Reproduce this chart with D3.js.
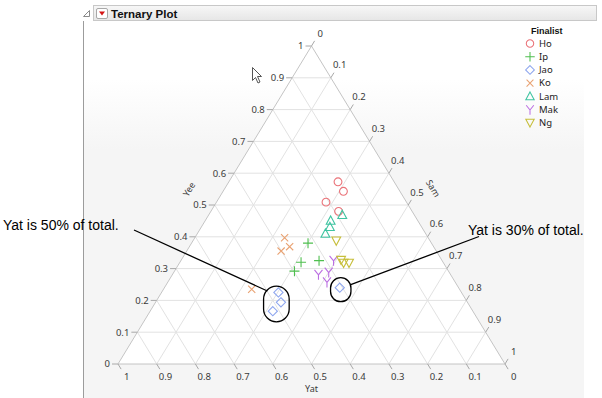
<!DOCTYPE html>
<html>
<head>
<meta charset="utf-8">
<script src="https://cdn.jsdelivr.net/npm/d3@7"></script>
<style>
  body { margin: 0; background: #fff; }
  text { font-family: "Noto Sans", "DejaVu Sans", sans-serif; }
</style>
</head>
<body>
<div id="chart"></div>
<script>
// finalists and the share each judge gave them (Yee / Sam / Yat)
const finalists = ["Ho", "Ip", "Jao", "Ko", "Lam", "Mak", "Ng"];
const colors = ["#ea7379", "#4fbf4f", "#8ea6ee", "#e9a272", "#3fc4a1", "#bb6fe2", "#c6be3a"];

const yeeVals = [
    [0.573, 0.543, 0.509, 0.480],
    [0.380, 0.320, 0.325, 0.292],
    [0.225, 0.194, 0.166, 0.240],
    [0.397, 0.369, 0.355, 0.235],
    [0.469, 0.451, 0.431, 0.410],
    [0.326, 0.282, 0.289, 0.258],
    [0.388, 0.327, 0.318, 0.318]
];
const samVals = [
    [0.282, 0.311, 0.283, 0.330],
    [0.301, 0.313, 0.357, 0.310],
    [0.302, 0.324, 0.317, 0.453],
    [0.232, 0.259, 0.244, 0.228],
    [0.345, 0.324, 0.332, 0.331],
    [0.394, 0.377, 0.400, 0.411],
    [0.370, 0.413, 0.424, 0.438]
];
const yatVals = [
    [0.145, 0.146, 0.208, 0.190],
    [0.319, 0.367, 0.318, 0.398],
    [0.473, 0.482, 0.517, 0.307],
    [0.371, 0.372, 0.401, 0.537],
    [0.186, 0.225, 0.237, 0.259],
    [0.280, 0.341, 0.311, 0.331],
    [0.242, 0.260, 0.258, 0.244]
];

const tickVals = [0, 0.1, 0.2, 0.3, 0.4, 0.5, 0.6, 0.7, 0.8, 0.9, 1];
const tickLabels = ["0", "0.1", "0.2", "0.3", "0.4", "0.5", "0.6", "0.7", "0.8", "0.9", "1"];

const annotations = [
    {text: "Yat is 50% of total.", pts: [0, 1, 2]},
    {text: "Yat is 30% of total.", pts: [3]}
];

const width = 602, height = 398;

const svg = d3.select("#chart").append("svg")
    .attr("width", width)
    .attr("height", height);

// x runs along the base (Sam + Yee/2), y goes up with Yee
const x = d3.scaleLinear().domain([0, 1]).range([118, 505]);
const y = d3.scaleLinear().domain([0, 1]).range([364, 46]);

function project(yee, sam, yat) {
    let tot = yee + sam + (yat === undefined ? 1 - yee - sam : yat);
    yee = yee / tot; sam = sam / tot;
    return [x(sam + yee / 2), y(yee)];
}

// ---- panel chrome ----
let defs = svg.append("defs");
let grad = defs.append("linearGradient").attr("id", "hdr")
    .attr("x1", 0).attr("y1", 0).attr("x2", 0).attr("y2", 1);
grad.append("stop").attr("offset", "0%").attr("stop-color", "#f7f7f7");
grad.append("stop").attr("offset", "100%").attr("stop-color", "#e6e6e6");

let bg = defs.append("linearGradient").attr("id", "frame")
    .attr("gradientUnits", "userSpaceOnUse")
    .attr("x1", 0).attr("y1", 80).attr("x2", 0).attr("y2", 150);
bg.append("stop").attr("offset", "0%").attr("stop-color", "#ffffff");
bg.append("stop").attr("offset", "100%").attr("stop-color", "#f5f5f5");

svg.append("rect")
    .attr("x", 84).attr("y", 22).attr("width", 500).attr("height", height - 22)
    .attr("fill", "url(#frame)");

svg.append("line")
    .attr("x1", 83.5).attr("x2", 83.5).attr("y1", 21).attr("y2", height)
    .attr("stroke", "#9c9c9c");

svg.append("rect")
    .attr("x", 93.5).attr("y", 5.5).attr("width", 503).attr("height", 15)
    .attr("fill", "url(#hdr)").attr("stroke", "#c8c8c8");

svg.append("path")
    .attr("d", "M89.5,10.5 L89.5,16.5 L83.5,16.5 Z")
    .attr("fill", "none").attr("stroke", "#8a8a8a");

svg.append("rect")
    .attr("x", 96.5).attr("y", 8.5).attr("width", 11).attr("height", 10).attr("rx", 1.5)
    .attr("fill", "#fff").attr("stroke", "#a8a8a8");
svg.append("path")
    .attr("d", "M99,11.5 L105,11.5 L102,15.5 Z")
    .attr("fill", "#d41414");

svg.append("text")
    .attr("x", 111).attr("y", 17.5)
    .style("font-family", "'Liberation Sans', Arial, sans-serif")
    .style("font-size", "11.5px").style("font-weight", "bold")
    .attr("fill", "#111")
    .text("Ternary Plot");

// ---- triangle ----
let tri = [project(0, 0), project(0, 1), project(1, 0)];
svg.append("path")
    .attr("d", "M" + tri.join("L") + "Z")
    .attr("fill", "#fff");

let grid = svg.append("g").attr("stroke", "#e2e2e2").attr("fill", "none");
tickVals.slice(1, -1).forEach(function(v) {
    // Yee constant
    let a = project(v, 0), b = project(v, 1 - v);
    grid.append("line").attr("x1", a[0]).attr("y1", a[1]).attr("x2", b[0]).attr("y2", b[1]);
    // Sam constant
    a = project(0, v); b = project(1 - v, v);
    grid.append("line").attr("x1", a[0]).attr("y1", a[1]).attr("x2", b[0]).attr("y2", b[1]);
    // Yat constant
    a = project(0, 1 - v); b = project(1 - v, 0);
    grid.append("line").attr("x1", a[0]).attr("y1", a[1]).attr("x2", b[0]).attr("y2", b[1]);
});

svg.append("path")
    .attr("d", "M" + tri.join("L") + "Z")
    .attr("fill", "none").attr("stroke", "#c4c4c4");

// ---- axes ----
let edge = [tri[2][0] - tri[0][0], tri[2][1] - tri[0][1]];
let len = Math.hypot(edge[0], edge[1]);
let up = [edge[0] / len, edge[1] / len];          // along left edge, upward
let ang = Math.atan2(edge[1], edge[0]) * 180 / Math.PI;

let axes = svg.append("g");
tickVals.forEach(function(v, i) {
    // Yee on the left edge
    let p = project(v, 0);
    axes.append("line").attr("x1", p[0]).attr("y1", p[1]).attr("x2", p[0] - 6).attr("y2", p[1])
        .attr("stroke", "#a8a8a8");
    axes.append("text").attr("x", p[0] - 8).attr("y", p[1]).attr("dy", "0.35em")
        .attr("text-anchor", "end").style("font-size", "9.5px").attr("fill", "#3a3a3a")
        .text(tickLabels[i]);

    // Sam on the right edge, ticks point up-right
    p = project(1 - v, v);
    let d = [up[0], up[1]];
    axes.append("line").attr("x1", p[0]).attr("y1", p[1])
        .attr("x2", p[0] + d[0] * 6).attr("y2", p[1] + d[1] * 6)
        .attr("stroke", "#a8a8a8");
    axes.append("text").attr("x", p[0] + d[0] * 15 + 1).attr("y", p[1] + d[1] * 15)
        .attr("dy", "0.35em").attr("text-anchor", "middle")
        .style("font-size", "9.5px").attr("fill", "#3a3a3a")
        .text(tickLabels[i]);

    // Yat on the base, ticks point down-right
    p = project(0, 1 - v);
    d = [up[0], -up[1]];
    axes.append("line").attr("x1", p[0]).attr("y1", p[1])
        .attr("x2", p[0] + d[0] * 6).attr("y2", p[1] + d[1] * 6)
        .attr("stroke", "#a8a8a8");
    axes.append("text").attr("x", p[0] + d[0] * 15 + 1).attr("y", p[1] + d[1] * 15)
        .attr("dy", "0.35em").attr("text-anchor", "middle")
        .style("font-size", "9.5px").attr("fill", "#3a3a3a")
        .text(tickLabels[i]);
});

let mid = project(0.5, 0);
axes.append("text")
    .attr("transform", "translate(" + (mid[0] - 23) + "," + (mid[1] - 14) + ") rotate(" + ang + ")")
    .attr("text-anchor", "middle").style("font-size", "9px").attr("fill", "#3a3a3a")
    .text("Yee");
mid = project(0.5, 0.5);
axes.append("text")
    .attr("transform", "translate(" + (mid[0] + 22) + "," + (mid[1] - 15) + ") rotate(" + (-ang) + ")")
    .attr("text-anchor", "middle").style("font-size", "9px").attr("fill", "#3a3a3a")
    .text("Sam");
mid = project(0, 0.5);
axes.append("text")
    .attr("x", mid[0]).attr("y", mid[1] + 28)
    .attr("text-anchor", "middle").style("font-size", "9px").attr("fill", "#3a3a3a")
    .text("Yat");

// ---- markers ----
const shapes = [
    "M3.9,0A3.9,3.9 0 1 1 -3.9,0A3.9,3.9 0 1 1 3.9,0Z",
    "M-5,0H5M0,-5V5",
    "M0,-4.6L4.6,0L0,4.6L-4.6,0Z",
    "M-3.6,-3.6L3.6,3.6M-3.6,3.6L3.6,-3.6",
    "M0,-4.6L4.4,3.6H-4.4Z",
    "M0,0.5V5.5M0,0.5L-4,-4.5M0,0.5L4,-4.5",
    "M0,4.6L4.4,-3.6H-4.4Z"
];

let pts = svg.append("g");
finalists.forEach(function(f, i) {
    let rows = yeeVals[i].map(function(v, j) { return [v, samVals[i][j], yatVals[i][j]]; });
    pts.selectAll(null)
        .data(rows)
        .enter()
        .append("path")
        .attr("transform", function(d) { return "translate(" + project(d[0], d[1], d[2]) + ")"; })
        .attr("d", shapes[i])
        .attr("fill", "none")
        .attr("stroke", colors[i])
        .attr("stroke-width", 1.1);
});

// ---- legend ----
let legend = svg.append("g");
legend.append("text").attr("x", 531).attr("y", 33.5)
    .style("font-family", "'Liberation Sans', Arial, sans-serif")
    .style("font-size", "9px").style("font-weight", "bold").attr("fill", "#111")
    .text("Finalist");
finalists.forEach(function(f, i) {
    let yy = 43.5 + i * 13.2;
    legend.append("path").attr("transform", "translate(530," + yy + ") scale(0.95)")
        .attr("d", shapes[i]).attr("fill", "none").attr("stroke", colors[i]).attr("stroke-width", 1.1);
    legend.append("text").attr("x", 539).attr("y", yy).attr("dy", "0.35em")
        .style("font-size", "9.5px").attr("fill", "#222").text(f);
});

// ---- mouse pointer ----
svg.append("path")
    .attr("transform", "translate(252.5,67.5)")
    .attr("d", "M0,0 L0,13 L3,10 L5.5,15.5 L7.5,14.5 L5,9 L9,9 Z")
    .attr("fill", "#fff").attr("stroke", "#555").attr("stroke-width", 1);

// ---- annotations ----
let jao = finalists.indexOf("Jao");
let jaoPts = yeeVals[jao].map(function(v, j) { return project(v, samVals[jao][j], yatVals[jao][j]); });

let ann = svg.append("g");
// left callout
let grp = annotations[0].pts.map(function(k) { return jaoPts[k]; });
let cx = d3.mean(grp, function(d) { return d[0]; }) - 1;
let cy = d3.mean(grp, function(d) { return d[1]; }) + 2;
ann.append("rect").attr("x", cx - 12.8).attr("y", cy - 17.8).attr("width", 25.6).attr("height", 35.6)
    .attr("rx", 12.8).attr("fill", "none").attr("stroke", "#000").attr("stroke-width", 1.3);
ann.append("line").attr("x1", 134).attr("y1", 230).attr("x2", cx - 9).attr("y2", cy - 13)
    .attr("stroke", "#000").attr("stroke-width", 1.3);
ann.append("text").attr("x", 3).attr("y", 229.5)
    .style("font-family", "'Liberation Sans', Arial, sans-serif").style("font-size", "14px")
    .attr("fill", "#000").text(annotations[0].text);

// right callout
grp = annotations[1].pts.map(function(k) { return jaoPts[k]; });
cx = grp[0][0] + 1; cy = grp[0][1] + 2;
ann.append("rect").attr("x", cx - 10.2).attr("y", cy - 12).attr("width", 20.4).attr("height", 24)
    .attr("rx", 10.2).attr("fill", "none").attr("stroke", "#000").attr("stroke-width", 1.3);
ann.append("line").attr("x1", 479).attr("y1", 236.5).attr("x2", cx + 10).attr("y2", cy - 5)
    .attr("stroke", "#000").attr("stroke-width", 1.3);
ann.append("text").attr("x", 468).attr("y", 234.5)
    .style("font-family", "'Liberation Sans', Arial, sans-serif").style("font-size", "14px")
    .attr("fill", "#000").text(annotations[1].text);
</script>
</body>
</html>
